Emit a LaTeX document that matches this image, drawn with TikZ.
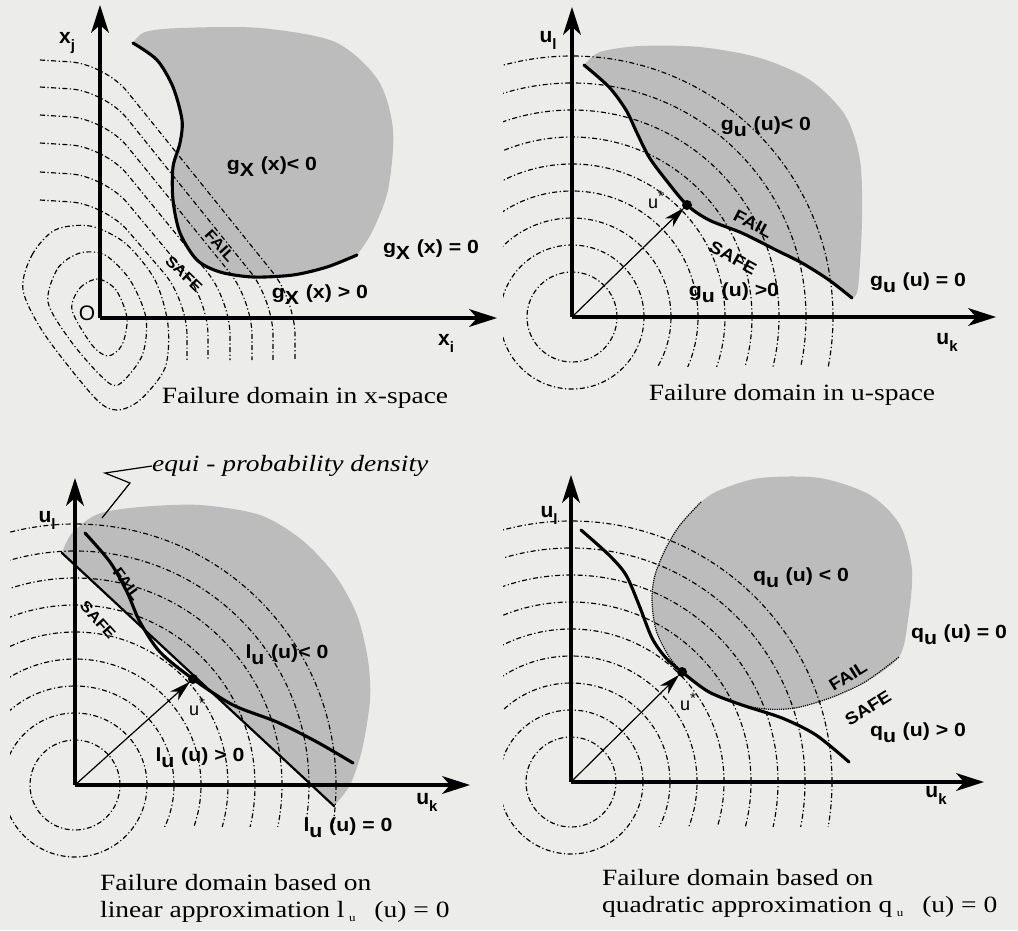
\documentclass[tikz,border=0pt]{standalone}
\usepackage{fontspec}
\usepackage{graphicx}
\setmainfont{Liberation Serif}
\newfontfamily\hv{Liberation Sans}
\usetikzlibrary{calc}
\definecolor{bgc}{RGB}{236,236,234}
\definecolor{shadec}{RGB}{188,188,188}
\newcommand\wtxt[1]{\scalebox{1.18}[1]{#1}}
\newcommand\wlab[1]{\scalebox{1.12}[1]{#1}}
\newcommand\glab[3]{\wlab{#1\raisebox{-6pt}{#2}\hspace{6pt}#3}}
\newcommand\ustar{u\raisebox{7pt}{\fontsize{15}{15}\selectfont *}}
\newcommand\ax[2]{#1\raisebox{-7pt}{\fontsize{15}{15}\selectfont #2}}
\newcommand\vhead[2]{\fill (#1,#2) -- ({#1+9},{#2+28}) -- (#1,{#2+20}) -- ({#1-9},{#2+28}) -- cycle;}
\newcommand\hhead[2]{\fill (#1,#2) -- ({#1-28},{#2-9}) -- ({#1-20},#2) -- ({#1-28},{#2+9}) -- cycle;}
\newcommand\betaarr[2]{%
  \draw[line width=1.2pt] (#1) -- ($(#2)!16pt!(#1)$);
  \fill ($(#2)!4pt!(#1)$) -- ($(#2)!26pt!13:(#1)$) -- ($(#2)!19pt!(#1)$) -- ($(#2)!26pt!-13:(#1)$) -- cycle;}
\tikzset{
 axisline/.style={line width=3.4pt, shorten >=18pt},
 lsf/.style={line width=3.1pt, line cap=round},
 linap/.style={line width=2.2pt, line cap=round},
 qbd/.style={line width=1.2pt, densely dotted},
 cont/.style={line width=1.15pt, dash pattern=on 5pt off 2.5pt on 1.2pt off 2.5pt},
 lab/.style={font=\hv\bfseries\fontsize{19}{19}\selectfont, inner sep=0pt},
 fs/.style={font=\hv\bfseries\fontsize{17}{17}\selectfont, inner sep=0pt},
 fsl/.style={font=\hv\bfseries\fontsize{15}{15}\selectfont, inner sep=0pt},
 ustyle/.style={font=\hv\fontsize{18}{18}\selectfont, inner sep=0pt},
 captxt/.style={font=\fontsize{23.3}{27}\selectfont, inner sep=0pt},
 axl/.style={font=\hv\bfseries\fontsize{21}{21}\selectfont, inner sep=0pt},
 dotn/.style={circle, fill=black, inner sep=0pt, minimum size=10pt},
 blob/.style={fill=shadec},
}
\begin{document}
\begin{tikzpicture}[x=1pt,y=-1pt]
\useasboundingbox (0,0) rectangle (1018,930);
\fill[bgc] (0,0) rectangle (1018,930);

% ---------------- panel 1 : x-space ----------------
\coordinate (o1) at (100,318);
\coordinate (o1y) at (100,5);
\coordinate (o1x) at (497,318);
\fill[blob] plot[smooth] coordinates {(133,43) (157,60) (173,87) (182,120) (180,143) (173,167) (173,200) (180,233) (197,260) (220,272) (253,277) (293,275) (327,267) (357,255)}
 -- plot[smooth] coordinates {(357,255) (372,232) (388,190) (393,130) (378,80) (335,42) (260,28) (180,28) (145,32) (133,43)} -- cycle;
\foreach \Y/\X in {60/295,87/273,115/252,143/230,172/208,200/187}
  \draw[cont, rounded corners=35pt] (40,\Y) -- (105,\Y+4) -- (\X,300) -- (\X,360);
\draw[cont] plot[smooth cycle] coordinates {(72,310) (80,288) (98,279) (116,290) (127,318) (122,345) (108,356) (92,345)};
\draw[cont] plot[smooth cycle] coordinates {(48,302) (58,268) (80,253) (105,255) (130,280) (146,318) (142,356) (118,385) (100,375) (70,340)};
\draw[cont] plot[smooth cycle] coordinates {(23,290) (32,255) (55,230) (90,226) (125,243) (155,280) (168,325) (165,368) (140,400) (117,410) (95,398) (45,335)};
\draw[lsf] plot[smooth] coordinates {(133,43) (157,60) (173,87) (182,120) (180,143) (173,167) (173,200) (180,233) (197,260) (220,272) (253,277) (293,275) (327,267) (357,255)};
\draw[axisline] (o1) -- (o1y); \vhead{100}{5}
\draw[axisline] (o1) -- (o1x); \hhead{497}{318}
\node[axl] (xj) at (67,43) {\ax{x}{j}};
\node[axl] (xi) at (446,343) {\ax{x}{i}};
\node[axl, font=\hv\fontsize{21}{21}\selectfont] (O) at (87,313) {O};
\node[lab] (g1a) at (272,167) {\glab{g}{X}{(x)< 0}};
\node[lab] (g1b) at (431,250) {\glab{g}{X}{(x) = 0}};
\node[lab] (g1c) at (320,295) {\glab{g}{X}{(x) > 0}};
\node[fsl, rotate=-48] (f1) at (220,246) {\wlab{FAIL}};
\node[fsl, rotate=-44] (s1) at (184,274) {\wlab{SAFE}};
\node[captxt] (c1) at (305,398) {\wtxt{Failure domain in x-space}};

% ---------------- panel 2 : u-space ----------------
\coordinate (o2) at (572,317);
\coordinate (o2y) at (572,7);
\coordinate (o2x) at (996,317);
\fill[blob] plot[smooth] coordinates {(584,65) (600,52) (640,46) (700,47) (760,58) (810,80) (845,115) (860,160) (862,220) (858,288) (852,298)}
 -- plot[smooth] coordinates {(852,298) (829,280) (802,263) (776,250) (742,233) (709,220) (687,205) (666,180) (649,157) (637,133) (626,110) (609,87) (584,65)} -- cycle;
\begin{scope}
\clip (503,0) rectangle (1018,366);
\foreach \r in {99,126,...,261} \draw[cont] (o2) circle[radius=\r pt];
\end{scope}
\begin{scope}
\clip (503,0) rectangle (1018,460);
\foreach \r in {45,72} \draw[cont] (o2) circle[radius=\r pt];
\end{scope}
\draw[lsf] plot[smooth] coordinates {(584,65) (609,87) (626,110) (637,133) (649,157) (666,180) (687,205) (709,220) (742,233) (776,250) (802,263) (829,280) (852,298)};
\node[dotn] (us2) at (687,205) {};
\draw[axisline] (o2) -- (o2y); \vhead{572}{7}
\draw[axisline] (o2) -- (o2x); \hhead{996}{317}
\betaarr{o2}{us2}
\node[axl] (ul2) at (548,40) {\ax{u}{l}};
\node[axl] (uk2) at (947,342) {\ax{u}{k}};
\node[ustyle] (ul2s) at (656,200) {\ustar};
\node[lab] (g2a) at (766,127) {\glab{g}{u}{(u)< 0}};
\node[lab] (g2b) at (918,283) {\glab{g}{u}{(u) = 0}};
\node[lab] (g2c) at (734,293) {\glab{g}{u}{(u) >0}};
\node[fs, rotate=-28] (f2) at (753,224) {\wlab{FAIL}};
\node[fs, rotate=-29] (s2) at (733,258) {\wlab{SAFE}};
\node[captxt] (c2) at (792,395) {\wtxt{Failure domain in u-space}};

% ---------------- panel 3 : linear approximation ----------------
\coordinate (o3) at (75,785);
\coordinate (o3y) at (75,478);
\coordinate (o3x) at (470,785);
\coordinate (la) at (62,553);
\coordinate (lb) at (334,806);
\fill[blob] plot[smooth] coordinates {(62,553) (72,533) (98,514) (140,507) (200,505) (260,515) (302,540) (335,575) (357,615) (368,660) (370,700) (362,750) (350,785) (334,806)} -- cycle;
\begin{scope}
\clip (10,470) rectangle (503,826);
\foreach \r in {99,126,...,261} \draw[cont] (o3) circle[radius=\r pt];
\end{scope}
\begin{scope}
\clip (10,470) rectangle (503,930);
\foreach \r in {45,72} \draw[cont] (o3) circle[radius=\r pt];
\end{scope}
\draw[linap] (la) -- (lb);
\draw[lsf] plot[smooth] coordinates {(85,533) (110,562) (127,592) (140,622) (160,652) (193,679) (233,705) (277,722) (317,742) (353,763)};
\node[dotn] (us3) at (193,679) {};
\draw[axisline] (o3) -- (o3y); \vhead{75}{478}
\draw[axisline] (o3) -- (o3x); \hhead{470}{785}
\betaarr{o3}{us3}
\node[axl] (ul3) at (47,520) {\ax{u}{l}};
\node[axl] (uk3) at (427,802) {\ax{u}{k}};
\node[ustyle] (ul3s) at (197,707) {\ustar};
\node[lab] (l3a) at (287,655) {\glab{l}{u}{(u)< 0}};
\node[lab] (l3b) at (200,758) {\glab{l}{u}{(u) > 0}};
\node[lab] (l3c) at (348,828) {\glab{l}{u}{(u) = 0}};
\node[fsl, rotate=-54] (f3) at (127,584) {\wlab{FAIL}};
\node[fsl, rotate=-48] (s3) at (98,620) {\wlab{SAFE}};
\node[captxt, anchor=west] (eq) at (152,466) {\wtxt{\itshape equi - probability density}};
\coordinate (leadend) at (102,518);
\draw[line width=1.2pt] (eq.west) -- (105,473) -- (130,483) -- (leadend);
\node[captxt, anchor=base west] (c3a) at (100,890) {\wtxt{Failure domain based on}};
\node[captxt, anchor=base west] (c3b) at (100,917) {\wtxt{linear approximation l\,\raisebox{-4pt}{\fontsize{11}{11}\selectfont u}\hspace{16pt}(u) = 0}};

% ---------------- panel 4 : quadratic approximation ----------------
\coordinate (o4) at (571,782);
\coordinate (o4y) at (571,475);
\coordinate (o4x) at (984,782);
\fill[blob] plot[smooth cycle] coordinates {(701,502) (680,525) (666,548) (655,575) (652,600) (656,630) (668,655) (682,672) (705,690) (735,703) (765,709) (795,708) (830,698) (865,682) (899,657) (908,620) (912,570) (900,525) (870,495) (820,478) (760,478) (720,490)};
\begin{scope}
\clip (503,470) rectangle (1018,826);
\foreach \r in {99,126,...,261} \draw[cont] (o4) circle[radius=\r pt];
\end{scope}
\begin{scope}
\clip (503,470) rectangle (1018,930);
\foreach \r in {45,72} \draw[cont] (o4) circle[radius=\r pt];
\end{scope}
\draw[qbd] plot[smooth] coordinates {(701,502) (680,525) (666,548) (655,575) (652,600) (656,630) (668,655) (682,672) (705,690) (735,703) (765,709) (795,708) (830,698) (865,682) (899,657)};
\draw[lsf] plot[smooth] coordinates {(581,530) (609,555) (626,575) (639,605) (652,638) (666,658) (682,672) (709,692) (742,705) (782,718) (816,735) (849,762)};
\node[dotn] (us4) at (682,672) {};
\draw[axisline] (o4) -- (o4y); \vhead{571}{475}
\draw[axisline] (o4) -- (o4x); \hhead{984}{782}
\betaarr{o4}{us4}
\node[axl] (ul4) at (549,515) {\ax{u}{l}};
\node[axl] (uk4) at (936,795) {\ax{u}{k}};
\node[ustyle] (ul4s) at (688,702) {\ustar};
\node[lab] (q4a) at (801,578) {\glab{q}{u}{(u) < 0}};
\node[lab] (q4b) at (959,635) {\glab{q}{u}{(u) = 0}};
\node[lab] (q4c) at (918,733) {\glab{q}{u}{(u) > 0}};
\node[fs, rotate=32] (f4) at (848,676) {\wlab{FAIL}};
\node[fs, rotate=32] (s4) at (868,708) {\wlab{SAFE}};
\node[captxt, anchor=base west] (c4a) at (602,885) {\wtxt{Failure domain based on}};
\node[captxt, anchor=base west] (c4b) at (602,912) {\wtxt{quadratic approximation q\,\raisebox{-4pt}{\fontsize{11}{11}\selectfont u}\hspace{16pt}(u) = 0}};
\end{tikzpicture}
\end{document}
